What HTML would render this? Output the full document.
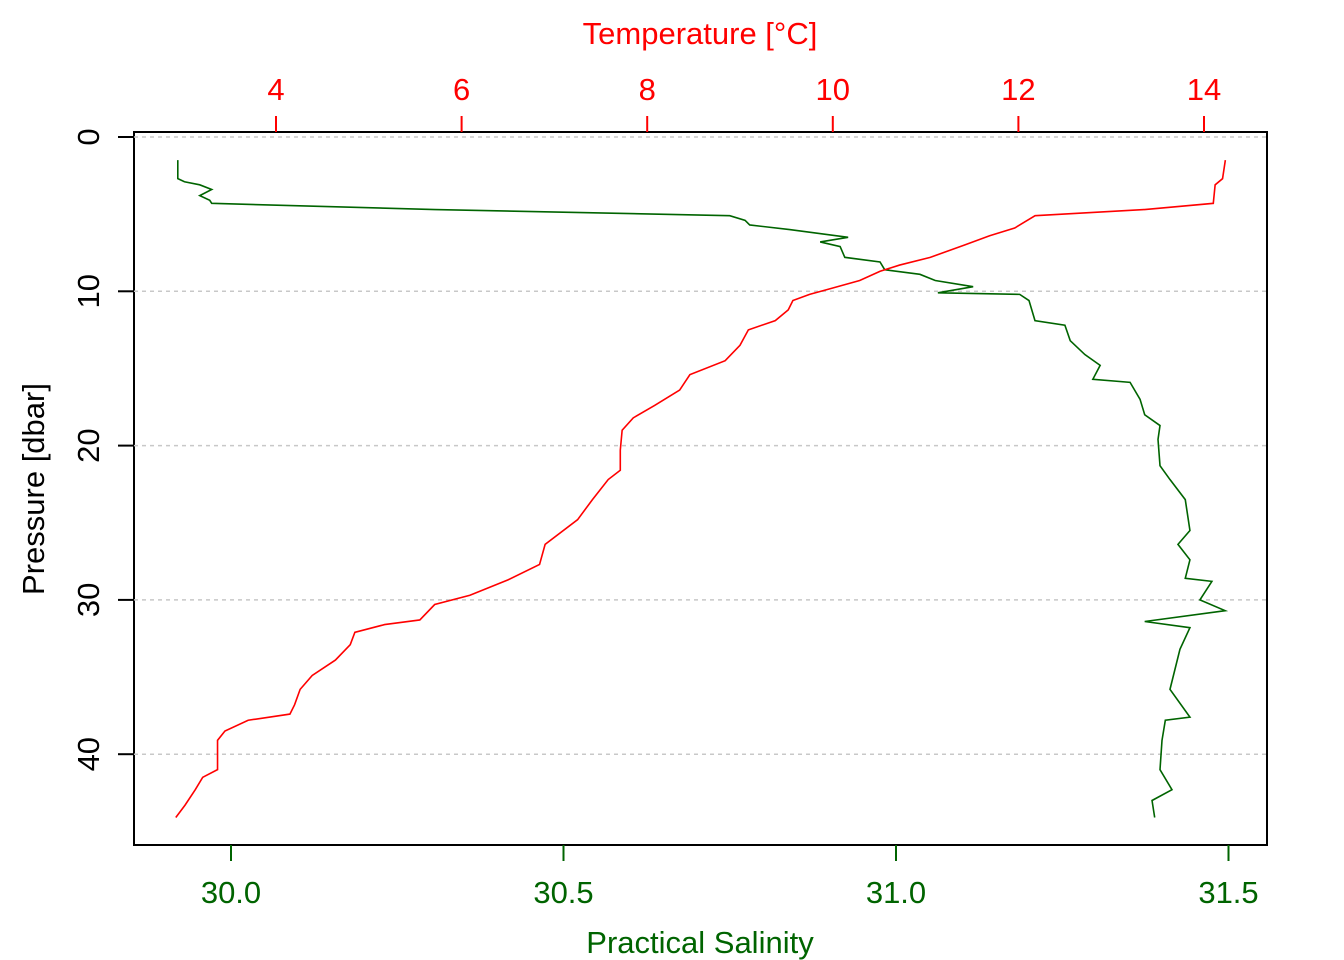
<!DOCTYPE html>
<html><head><meta charset="utf-8"><style>
html,body{margin:0;padding:0;background:#fff;}
svg{display:block;font-family:"Liberation Sans",Arial,sans-serif;}
</style></head><body>
<svg id="chart" width="1344" height="960" viewBox="0 0 1344 960">
<rect x="134" y="132" width="1133" height="713" fill="none" stroke="#000" stroke-width="2"/>
<g id="grid"></g>
<g id="axes"></g>
<g id="series"></g>
<text x="700" y="44" text-anchor="middle" font-size="31" fill="#ff0000">Temperature [°C]</text>
<text x="700" y="953" text-anchor="middle" font-size="31" fill="#006400">Practical Salinity</text>
<text transform="translate(44,489) rotate(-90)" text-anchor="middle" font-size="31" fill="#000">Pressure [dbar]</text>
</svg>
<script>
const pressureTicks=[0,10,20,30,40];
const salinityTicks=["30.0","30.5","31.0","31.5"];
const temperatureTicks=[4,6,8,10,12,14];
const salPressure=[1.5,2.7,2.9,3.1,3.4,3.8,4.1,4.3,4.7,5.1,5.4,5.7,6.0,6.5,6.8,7.1,7.8,8.1,8.6,8.9,9.3,9.7,10.1,10.2,10.6,11.9,12.2,13.2,14.1,14.8,15.7,15.9,17.0,18.0,18.7,19.6,21.3,22.2,23.5,25.5,26.4,27.4,28.6,28.8,30.0,30.7,31.4,31.8,33.2,35.8,37.6,37.8,39.1,41.0,42.3,43.0,44.1];
const salinity=[29.92,29.92,29.93,29.953,29.971,29.953,29.968,29.971,30.307,30.75,30.773,30.78,30.84,30.928,30.886,30.916,30.923,30.976,30.983,31.036,31.059,31.116,31.063,31.186,31.2,31.209,31.254,31.262,31.284,31.307,31.296,31.352,31.367,31.374,31.397,31.394,31.397,31.412,31.435,31.442,31.424,31.442,31.435,31.475,31.457,31.495,31.374,31.442,31.427,31.412,31.442,31.405,31.4,31.397,31.415,31.385,31.389];
const tempPressure=[1.5,2.7,3.1,4.3,4.7,5.1,5.5,5.9,6.4,7.0,7.8,8.3,8.7,9.3,9.8,10.2,10.6,11.2,11.9,12.5,13.5,14.5,15.4,16.4,17.4,18.2,19.0,20.3,21.6,22.2,23.5,24.8,26.4,27.7,28.7,29.7,30.3,31.3,31.6,32.1,32.9,33.9,34.9,35.8,36.8,37.4,37.8,38.5,39.1,41.0,41.5,42.3,43.3,44.1];
const temperature=[14.23,14.2,14.12,14.1,13.36,12.18,12.07,11.96,11.69,11.42,11.05,10.72,10.51,10.29,9.99,9.75,9.57,9.52,9.38,9.09,9.0,8.84,8.46,8.35,8.08,7.85,7.73,7.71,7.71,7.58,7.41,7.25,6.9,6.84,6.5,6.09,5.71,5.55,5.17,4.85,4.8,4.64,4.39,4.26,4.2,4.15,3.7,3.45,3.37,3.37,3.21,3.13,3.02,2.92];
const NS="http://www.w3.org/2000/svg";
const yP=p=>137+p*15.43;
const xS=s=>231+(s-30)*665;
const xT=t=>276+(t-4)*92.8;
function mk(tag,attrs,parent){const e=document.createElementNS(NS,tag);for(const k in attrs)e.setAttribute(k,attrs[k]);parent.appendChild(e);return e;}
const grid=document.getElementById('grid'),axes=document.getElementById('axes'),series=document.getElementById('series');
pressureTicks.forEach(p=>{
 const g=mk('line',{x1:134,x2:1267,y1:yP(p),y2:yP(p),stroke:'#c8c8c8','stroke-width':1.5,'stroke-dasharray':'4,4'},grid);
 
 
 const t=mk('line',{x1:118,x2:134,y1:yP(p),y2:yP(p),stroke:'#000','stroke-width':2},axes);
 
 
 const l=mk('text',{transform:`translate(99,${yP(p)}) rotate(-90)`,'text-anchor':'middle','font-size':31,fill:'#000'},axes);
 l.textContent=p;
 
 
});
salinityTicks.forEach(s=>{
 const x=xS(+s);
 const t=mk('line',{x1:x,x2:x,y1:845,y2:861,stroke:'#006400','stroke-width':2},axes);
 
 
 const l=mk('text',{x:x,y:903,'text-anchor':'middle','font-size':31,fill:'#006400'},axes);
 l.textContent=s;
 
 
});
temperatureTicks.forEach(v=>{
 const x=xT(v);
 const t=mk('line',{x1:x,x2:x,y1:116,y2:132,stroke:'#ff0000','stroke-width':2},axes);
 
 
 const l=mk('text',{x:x,y:100,'text-anchor':'middle','font-size':31,fill:'#ff0000'},axes);
 l.textContent=v;
 
 
});
const sp=mk('polyline',{points:salinity.map((s,i)=>xS(s)+','+yP(salPressure[i])).join(' '),fill:'none',stroke:'#006400','stroke-width':1.6},series);


const tp=mk('polyline',{points:temperature.map((t,i)=>xT(t)+','+yP(tempPressure[i])).join(' '),fill:'none',stroke:'#ff0000','stroke-width':1.6},series);


</script>
</body></html>
